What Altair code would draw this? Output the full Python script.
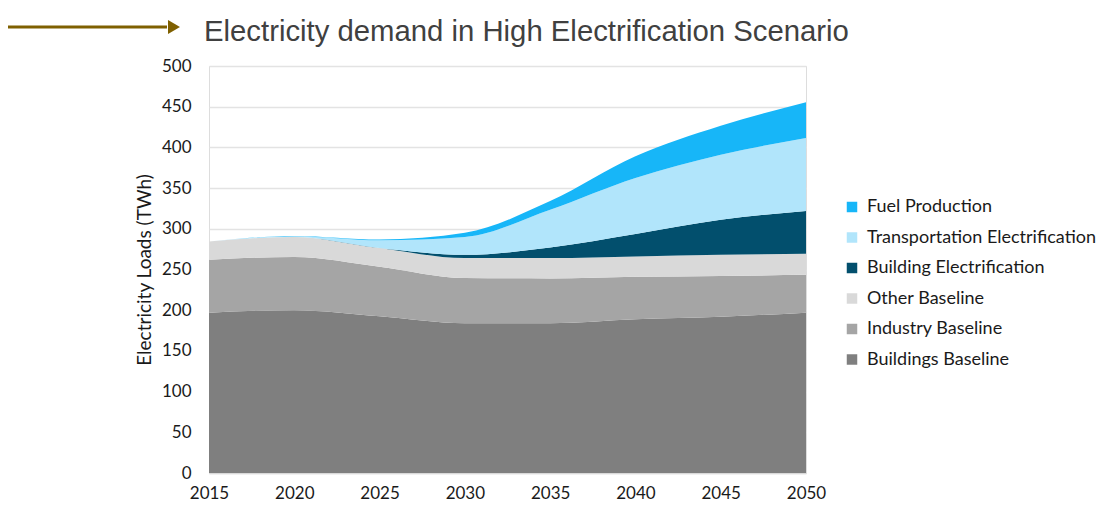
import altair as alt
import pandas as pd

years = [2015, 2020, 2025, 2030, 2035, 2040, 2045, 2050]
buildings_baseline = [197, 200, 192.5, 184, 184, 189, 192, 197]
industry_baseline = [65, 65.5, 61, 55.5, 55, 52, 50, 46.5]
other_baseline = [22.5, 24.5, 23, 24.5, 25, 25, 26, 26]
building_electrification = [0, 0, 0, 4, 13, 27.5, 43, 52.5]
transportation_electrification = [0, 1, 9.5, 22, 46.5, 69, 80, 89.5]
fuel_production = [0, 0.3, 0.8, 5, 10.5, 26.5, 35.5, 44]

series_names = ["Buildings Baseline", "Industry Baseline", "Other Baseline",
                "Building Electrification", "Transportation Electrification",
                "Fuel Production"]
series_values = [buildings_baseline, industry_baseline, other_baseline,
                 building_electrification, transportation_electrification,
                 fuel_production]
series_colors = ["#7f7f7f", "#a5a5a5", "#d9d9d9", "#024f6d", "#b1e5fb", "#17b6f8"]

y_ticks = list(range(0, 501, 50))
title_text = "Electricity demand in High Electrification Scenario"
y_title = "Electricity Loads (TWh)"

rows = []
for rank, (name, vals) in enumerate(zip(series_names, series_values)):
    for yr, v in zip(years, vals):
        rows.append({"year": yr, "series": name, "value": v, "rank": rank})
df = pd.DataFrame(rows)

legend_order = list(reversed(series_names))
legend_colors = list(reversed(series_colors))

FONT = "Lato"
TXT = "#1a1a1a"

area = alt.Chart(df).mark_area(interpolate="monotone").encode(
    x=alt.X("year:Q",
            scale=alt.Scale(domain=[2015, 2050], nice=False, zero=False),
            axis=alt.Axis(values=years, format="d", title=None, grid=False,
                          ticks=False, tickSize=0, domainColor="#d9d9d9",
                          domainWidth=1.5, labelFontSize=17, labelFont=FONT,
                          labelColor=TXT, labelPadding=25,
                          labelBaseline="alphabetic", labelFlush=False,
                          labelOverlap=False)),
    y=alt.Y("value:Q", stack="zero",
            scale=alt.Scale(domain=[0, 500], nice=False),
            axis=alt.Axis(values=y_ticks, title=y_title,
                          domain=False, ticks=False, tickSize=0,
                          gridColor="#e3e3e3", gridWidth=1.5,
                          labelFontSize=17, labelFont=FONT, labelColor=TXT,
                          labelPadding=18, labelFlush=False,
                          titleFont=FONT, titleFontSize=19,
                          titleFontWeight="normal", titleColor=TXT,
                          titlePadding=7)),
    color=alt.Color("series:N",
                    scale=alt.Scale(domain=legend_order, range=legend_colors),
                    legend=alt.Legend(title=None, orient="none", legendX=634,
                                      legendY=132, symbolType="square",
                                      symbolSize=110, symbolStrokeWidth=0,
                                      labelFont=FONT, labelFontSize=18,
                                      labelColor=TXT, labelOffset=6,
                                      labelLimit=320, rowPadding=12.5,
                                      padding=0)),
    order=alt.Order("rank:Q"),
)

deco = alt.Data(values=[{"t": title_text}])
arrow_line = alt.Chart(deco).mark_rule(color="#7f6000", strokeWidth=3).encode(
    x=alt.value(-201), x2=alt.value(-42), y=alt.value(-39))
arrow_head = alt.Chart(deco).mark_point(shape="triangle-right", filled=True,
                                        color="#7f6000", opacity=1, size=190).encode(
    x=alt.value(-35), y=alt.value(-39))
title = alt.Chart(deco).mark_text(align="left", baseline="alphabetic",
                                  font="Liberation Sans", fontSize=29.3,
                                  color="#404040").encode(
    text="t:N", x=alt.value(-5), y=alt.value(-25))

chart = alt.layer(area, arrow_line, arrow_head, title).properties(
    width=597, height=407,
    autosize=alt.AutoSizeParams(type="none"),
    padding={"left": 201, "top": 58, "right": 291, "bottom": 29},
).configure_view(stroke=None).configure(background="white")

chart.save("out.html", embed_options={"renderer": "svg", "actions": False})
